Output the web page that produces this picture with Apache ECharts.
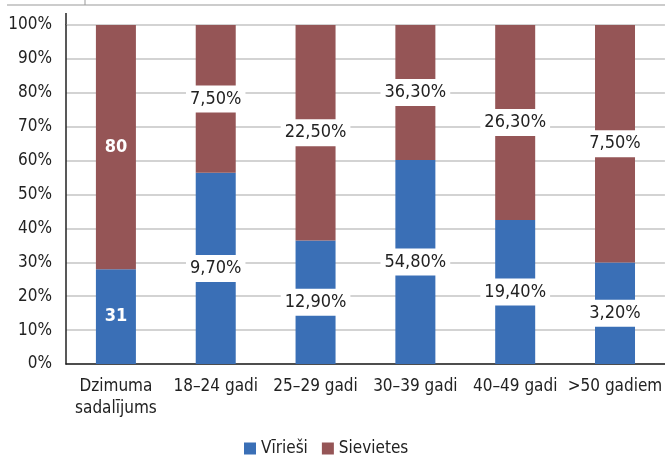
<!DOCTYPE html>
<html>
<head>
<meta charset="utf-8">
<script src="https://cdn.jsdelivr.net/npm/echarts@6/dist/echarts.min.js"></script>
<style>
  html, body { margin: 0; padding: 0; background: #fff; }
  #main { width: 665px; height: 457px; }
</style>
</head>
<body>
<div id="main"></div>
<script>
// kategorijas un vērtības
const categories = ['Dzimuma\nsadalījums', '18–24 gadi', '25–29 gadi', '30–39 gadi', '40–49 gadi', '>50 gadiem']
const virieshi = [31, 9.7, 12.9, 54.8, 19.4, 3.2]
const sievietes = [80, 7.5, 22.5, 36.3, 26.3, 7.5]
const yTicks = [0, 10, 20, 30, 40, 50, 60, 70, 80, 90, 100]

const font = "'DejaVu Sans Condensed', 'Liberation Sans Narrow', sans-serif"
const blue = '#3a6fb6'
const red = '#955556'

// 100% stacked: each segment is its share of the category total
const share = (arr, i) => arr[i] / (virieshi[i] + sievietes[i]) * 100
const fmt = v => v.toFixed(2).replace('.', ',') + '%'

const makeData = (arr) => arr.map((v, i) => {
  let item = { value: share(arr, i), raw: v }
  if (i === 0) {
    item.label = {
      formatter: String(v),
      color: '#fff',
      fontWeight: 'bold',
      backgroundColor: 'transparent',
      fontSize: 18
    }
  }
  return item
})

const segLabel = {
  show: true,
  position: 'inside',
  fontFamily: font,
  fontSize: 18,
  color: '#222',
  backgroundColor: '#fff',
  padding: [5, 4, 4, 4],
  formatter: p => fmt(p.data.raw)
}

let myChart = echarts.init(document.getElementById('main'))
let option = {
  animation: false,
  textStyle: { fontFamily: font },
  grid: { left: 66, width: 602, top: 25, height: 339 },
  legend: {
    left: 244,
    top: 440,
    padding: 0,
    itemWidth: 12,
    itemHeight: 12,
    itemGap: 14,
    icon: 'rect',
    textStyle: { fontFamily: font, fontSize: 17, color: '#222' },
    data: ['Vīrieši', 'Sievietes']
  },
  xAxis: {
    type: 'category',
    data: categories,
    axisLine: { lineStyle: { color: '#222', width: 1.5 } },
    axisTick: { show: false },
    axisLabel: { interval: 0, fontFamily: font, fontSize: 17, color: '#222', margin: 12, lineHeight: 22 }
  },
  yAxis: {
    type: 'value',
    min: 0,
    max: 100,
    interval: 10,
    axisLine: { show: true, lineStyle: { color: '#222', width: 1.5 } },
    axisTick: { show: false },
    axisLabel: {
      fontFamily: font, fontSize: 17, color: '#222', margin: 14,
      formatter: v => yTicks.indexOf(v) >= 0 ? v + '%' : ''
    },
    splitLine: { lineStyle: { color: '#c4c4c4', width: 1.5 } }
  },
  series: [
    {
      name: 'Vīrieši',
      type: 'bar',
      stack: 'total',
      barWidth: 40,
      itemStyle: { color: blue },
      label: segLabel,
      data: makeData(virieshi)
    },
    {
      name: 'Sievietes',
      type: 'bar',
      stack: 'total',
      barWidth: 40,
      itemStyle: { color: red },
      label: segLabel,
      data: makeData(sievietes)
    }
  ],
  graphic: [
    { type: 'line', shape: { x1: 7, y1: 5, x2: 665, y2: 5 }, style: { stroke: '#999', lineWidth: 1 } },
    { type: 'line', shape: { x1: 85, y1: 0, x2: 85, y2: 5 }, style: { stroke: '#999', lineWidth: 1 } },
    { type: 'line', shape: { x1: 66, y1: 13, x2: 66, y2: 25 }, style: { stroke: '#222', lineWidth: 1.5 } }
  ]
}
myChart.setOption(option)
</script>
</body>
</html>
